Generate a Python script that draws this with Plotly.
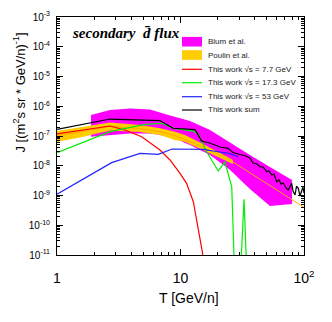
import plotly.graph_objects as go

# Blum et al. band
blum_t = [1.885, 2.687, 3.90, 5.66, 8.22, 11.94, 17.34, 25.2, 36.5, 53.0, 80.0]
blum_hi = [5.08e-7, 7.48e-7, 8.39e-7, 7.78e-7, 4.89e-7, 3.19e-7, 1.59e-7, 5.82e-8, 2.30e-8, 9.08e-9, 3.32e-9]
blum_lo = [9.46e-8, 1.08e-7, 1.21e-7, 1.21e-7, 9.6e-8, 4.98e-8, 2.30e-8, 7.19e-9, 1.66e-9, 4.4e-10, 5.2e-10]

# Poulin et al. band + central line
poulin_t = [1.0, 1.535, 2.687, 4.70, 6.82, 9.02, 10.87, 15.21, 20.9, 26.6]
poulin_hi = [1.47e-7, 1.93e-7, 2.84e-7, 2.34e-7, 1.82e-7, 1.40e-7, 1.08e-7, 5.38e-8, 2.69e-8, 1.56e-8]
poulin_lo = [6.43e-8, 8.9e-8, 1.53e-7, 1.36e-7, 1.08e-7, 7.35e-8, 6.43e-8, 3.38e-8, 1.82e-8, 1.15e-8]
poulin_mid_t = [1.0, 2.687, 4.70, 6.82, 9.02, 15.21, 26.6, 100.0]
poulin_mid = [1.0e-7, 2.1e-7, 1.79e-7, 1.40e-7, 1.02e-7, 4.27e-8, 1.34e-8, 4.0e-10]

# this work, sqrt(s) = 7.7 GeV
red_t = [1.0, 2.69, 3.55, 4.85, 6.82, 8.22, 9.91, 11.2, 12.7, 13.9, 15.1, 15.6]
red_j = [1.17e-7, 2.17e-7, 1.59e-7, 9.46e-8, 3.38e-8, 1.56e-8, 5.57e-9, 2.57e-9, 6.19e-10, 8.9e-11, 1.14e-11, 1e-12]

# this work, sqrt(s) = 17.3 GeV
green_t = [1.0, 2.69, 5.16, 7.04, 8.86, 12.7, 13.9, 16.3, 20.2, 22.9, 26.0, 27.6, 30.3, 32.7, 34.7]
green_j = [2.75e-8, 1.40e-7, 2.47e-7, 2.67e-7, 1.8e-7, 1.45e-7, 1.17e-7, 2.97e-8, 6.67e-9, 1.34e-8, 1.93e-9, 1e-12, 1e-12, 7.45e-10, 1e-12]

# this work, sqrt(s) = 53 GeV
blue_t = [1.0, 1.85, 2.77, 4.70, 6.61, 8.54, 11.9, 15.3, 18.4, 24.4, 29.2]
blue_j = [1.10e-9, 4.89e-9, 1.27e-8, 2.62e-8, 2.43e-8, 3.66e-8, 3.57e-8, 3.57e-8, 3.13e-8, 2.62e-8, 2.05e-8]

# this work, sum
sum_t = [1.0, 2.69, 6.82, 8.70, 13.1, 14.85, 17.3, 20.9, 24.2, 26.6, 30.3, 33.9, 36.5, 38.6, 41.6,
         44.0, 46.6, 49.9, 52.1, 54.8, 57.2, 60.1, 62.8, 65.1, 68.0, 71.5, 74.6, 77.0, 79.5, 81.5,
         84.6, 87.0, 89.9, 92.8, 95.8, 98.1, 100.0]
sum_j = [1.68e-7, 3.72e-7, 3.3e-7, 1.82e-7, 1.65e-7, 6.79e-8, 5.82e-8, 4.27e-8, 3.86e-8, 2.79e-8,
         2.39e-8, 2.13e-8, 1.82e-8, 1.24e-8, 1.15e-8, 9.29e-9, 9.08e-9, 6.31e-9, 6.67e-9, 4.89e-9,
         5.28e-9, 2.91e-9, 3.32e-9, 2.44e-9, 2.63e-9, 1.79e-9, 1.53e-9, 2.08e-9, 2.57e-9, 1.42e-9,
         1.04e-9, 2.08e-9, 1.75e-9, 9.6e-10, 1.34e-9, 1.93e-9, 1.21e-9]

legend_labels = ["Blum et al.", "Poulin et al.", "This work \u221as = 7.7 GeV",
                 "This work \u221as = 17.3 GeV", "This work \u221as = 53 GeV", "This work sum"]

MAGENTA = "#FF00FF"
GOLD = "#FFCC00"
colors = [MAGENTA, GOLD, "#FF0000", "#00EE00", "#2222FF", "#000000"]

fig = go.Figure()
fig.add_trace(go.Scatter(x=blum_t + blum_t[::-1], y=blum_hi + blum_lo[::-1], fill="toself",
                         fillcolor=MAGENTA, line=dict(width=0), mode="lines"))
fig.add_trace(go.Scatter(x=poulin_t + poulin_t[::-1], y=poulin_hi + poulin_lo[::-1], fill="toself",
                         fillcolor=GOLD, line=dict(width=0), mode="lines"))
fig.add_trace(go.Scatter(x=poulin_mid_t, y=poulin_mid, mode="lines", line=dict(color="#FFAA00", width=1)))
for t, j, c in [(red_t, red_j, colors[2]), (green_t, green_j, colors[3]),
                (blue_t, blue_j, colors[4]), (sum_t, sum_j, colors[5])]:
    fig.add_trace(go.Scatter(x=t, y=j, mode="lines", line=dict(color=c, width=1.2)))

# page has an 8px body margin, so the figure is made 8px smaller and margins shifted
L, W, T0, H = 57, 247, 17, 238
def px(x):
    return (x - L) / W
def py(y):
    return 1 - (y - T0) / H

# hand-made legend, ROOT style (no frame)
rows = [41.7, 55.0, 69.3, 82.7, 96.7, 110.0]
shapes = []
annotations = []
for i, (lab, c) in enumerate(zip(legend_labels, colors)):
    r = rows[i]
    if i < 2:
        shapes.append(dict(type="rect", xref="paper", yref="paper", x0=px(182), x1=px(202),
                           y0=py(r + 4.8), y1=py(r - 4.8), fillcolor=c, line=dict(width=0)))
    else:
        shapes.append(dict(type="line", xref="paper", yref="paper", x0=px(182), x1=px(202),
                           y0=py(r), y1=py(r), line=dict(color=c, width=1.2)))
    annotations.append(dict(x=px(206), y=py(r), xref="paper", yref="paper", text=lab, showarrow=False,
                            xanchor="left", yanchor="middle", font=dict(size=8, color="#222")))

annotations.append(dict(x=px(70), y=py(33.5), xref="paper", yref="paper", showarrow=False,
                        text="<b><i>secondary  d\u0304 flux</i></b>", xanchor="left", yanchor="middle",
                        font=dict(family="Liberation Serif", size=15, color="black")))
annotations.append(dict(x=px(19), y=py(92.5), xref="paper", yref="paper", showarrow=False,
                        text="J [(m<sup>2</sup>s sr * GeV/n)<sup>-1</sup>]", textangle=-90,
                        xanchor="center", yanchor="middle", font=dict(size=13, color="black")))
annotations.append(dict(x=px(189), y=py(298), xref="paper", yref="paper", showarrow=False,
                        text="T [GeV/n]", xanchor="center", yanchor="middle",
                        font=dict(size=14, color="black")))

xminor = [k * 10 ** e for e in range(0, 2) for k in range(2, 10)]
yminor = [k * 10.0 ** e for e in range(-11, -3) for k in range(2, 10)]

fig.update_layout(
    width=324, height=314,
    margin=dict(l=49, r=28, t=9, b=67, autoexpand=False),
    paper_bgcolor="white", plot_bgcolor="white",
    showlegend=False,
    font=dict(family="Liberation Sans", color="black"),
    shapes=shapes, annotations=annotations,
    xaxis=dict(type="log", range=[0, 2], showgrid=False, zeroline=False,
               showline=True, linecolor="black", linewidth=1, mirror="ticks",
               ticks="inside", ticklen=6, tickcolor="black",
               tickvals=[1, 10, 100], ticktext=["1", "10", "10<sup>2</sup>"],
               tickfont=dict(size=14), ticklabelstandoff=10,
               minor=dict(tickvals=xminor, ticks="inside", ticklen=3, tickcolor="black", showgrid=False)),
    yaxis=dict(type="log", range=[-11, -3], showgrid=False, zeroline=False,
               showline=True, linecolor="black", linewidth=1, mirror="ticks",
               ticks="inside", ticklen=6, tickcolor="black",
               tickvals=[10.0 ** e for e in range(-11, -2)],
               ticktext=[f"10<sup>{e}</sup>" for e in range(-11, -2)],
               tickfont=dict(size=10), ticklabelstandoff=4,
               minor=dict(tickvals=yminor, ticks="inside", ticklen=3, tickcolor="black", showgrid=False)),
)

fig.write_html("out.html")
